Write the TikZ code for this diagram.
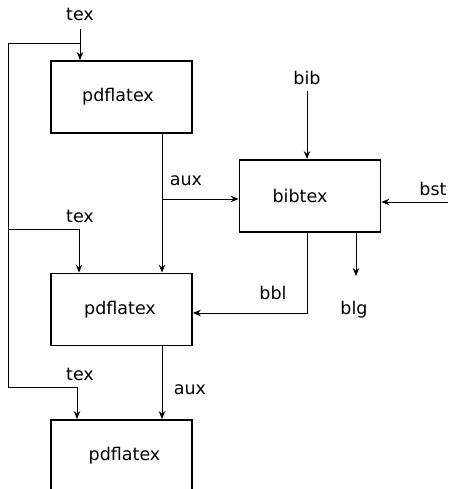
\documentclass[tikz,border=0pt]{standalone}
\usepackage{fontspec}
\setmainfont{DejaVu Sans}
\usetikzlibrary{arrows.meta}
\begin{document}
\begin{tikzpicture}[x=1pt,y=-1pt,
  box/.style={draw,line width=1.8pt,minimum width=141pt,minimum height=72pt,inner sep=0pt,font=\fontsize{17.5}{20}\selectfont},
  lbl/.style={inner sep=0pt,font=\fontsize{17.5}{20}\selectfont},
  conn/.style={line width=0.9pt},
  arr/.style={conn,-{Stealth[length=8pt,width=6.5pt]}}]
\useasboundingbox (0,0) rectangle (448,489);
\node[box] (p1) at (121.5,97) {\raisebox{4pt}{pdflatex}\hspace*{7pt}};
\node[box] (bt) at (310,196) {bibtex\hspace*{20pt}};
\node[box] (p2) at (121.5,309.5) {pdflatex\hspace*{3pt}};
\node[box] (p3) at (121.5,456) {\hspace*{6pt}pdflatex};
\node[lbl] (tex1) at (80,14) {tex};
\node[lbl] (tex2) at (80,216) {tex};
\node[lbl] (tex3) at (80,374) {tex};
\node[lbl] (aux1) at (186,181) {aux};
\node[lbl] (aux2) at (190,390) {aux};
\node[lbl] (bib) at (307,78) {bib};
\node[lbl] (bst) at (433,189) {bst};
\node[lbl] (bbl) at (273,293) {bbl};
\node[lbl] (blg) at (354,310) {blg};
\coordinate (t1) at (80,29);
\coordinate (j1) at (80,43);
\coordinate (l1) at (8,43);
\coordinate (l2) at (8,229);
\coordinate (l3) at (8,387);
\coordinate (k2) at (79,229);
\coordinate (k3) at (77,387);
\coordinate (a1) at (162,199);
\coordinate (b1) at (307,91);
\coordinate (s1) at (448,202);
\coordinate (c1) at (307,313);
\coordinate (g1) at (356,276);
\draw[arr] (t1) -- (t1 |- p1.north);
\draw[conn] (j1) -- (l1) -- (l3) -- (k3);
\draw[arr] (k3) -- (k3 |- p3.north);
\draw[arr] (l2) -- (k2) -- (k2 |- p2.north);
\draw[arr] (p1.south -| a1) -- (a1 |- p2.north);
\draw[arr] (a1) -- (a1 -| bt.west);
\draw[arr] (p2.south -| a1) -- (a1 |- p3.north);
\draw[arr] (b1) -- (b1 |- bt.north);
\draw[arr] (s1) -- (s1 -| bt.east);
\draw[arr] (bt.south -| c1) -- (c1) -- (c1 -| p2.east);
\draw[arr] (bt.south -| g1) -- (g1);
\end{tikzpicture}
\end{document}
